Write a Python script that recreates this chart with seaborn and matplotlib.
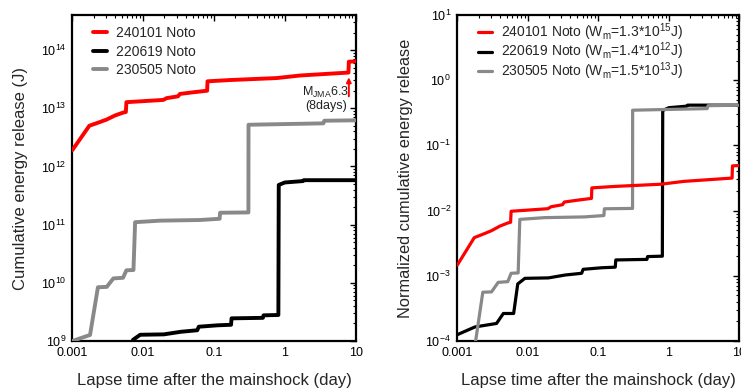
import numpy as np
import pandas as pd
import matplotlib
matplotlib.use("Agg")
import matplotlib.pyplot as plt
import seaborn as sns
from matplotlib.ticker import FixedLocator, FixedFormatter, LogLocator, NullFormatter

# ---------------- data ----------------
# 240101 Noto
t_240101 = [0.001, 0.00174, 0.00246, 0.00306, 0.0040, 0.0052, 0.0057, 0.0058, 0.0193,
            0.0214, 0.031, 0.033, 0.051, 0.080, 0.081, 0.168, 0.77, 1.64, 7.9, 8.0, 10.0]
E_240101 = [1.9e12, 5.0e12, 5.8e12, 6.4e12, 7.5e12, 8.4e12, 8.6e12, 1.27e13, 1.39e13,
            1.49e13, 1.6e13, 1.76e13, 1.88e13, 2.0e13, 2.9e13, 3.05e13, 3.3e13, 3.65e13,
            4.1e13, 6.3e13, 6.4e13]
# 220619 Noto
t_220619 = [0.001, 0.00178, 0.0036, 0.0045, 0.0063, 0.0072, 0.0091, 0.0196, 0.034, 0.058,
            0.061, 0.112, 0.174, 0.177, 0.49, 0.50, 0.81, 0.82, 1.0, 1.8, 1.85, 10.0]
E_220619 = [1.75e8, 2.3e8, 2.6e8, 3.7e8, 3.7e8, 1.05e9, 1.28e9, 1.3e9, 1.44e9, 1.53e9,
            1.76e9, 1.86e9, 1.9e9, 2.45e9, 2.5e9, 2.76e9, 2.8e9, 4.8e11, 5.3e11, 5.6e11,
            5.8e11, 5.8e11]
# 230505 Noto
t_230505 = [0.001, 0.00178, 0.0023, 0.00306, 0.0038, 0.0052, 0.0058, 0.0073, 0.0077,
            0.0173, 0.063, 0.12, 0.122, 0.306, 0.307, 3.5, 3.6, 10.0]
E_230505 = [1.0e9, 1.27e9, 8.4e9, 8.5e9, 1.19e10, 1.22e10, 1.64e10, 1.66e10, 1.1e11,
            1.17e11, 1.2e11, 1.26e11, 1.6e11, 1.62e11, 5.2e12, 5.5e12, 6.1e12, 6.2e12]

# maximum energies W_m (J) used for normalisation
Wm = {"240101": 1.3e15, "220619": 1.4e12, "230505": 1.5e13}

series_names = ["240101", "220619", "230505"]
series_t = {"240101": t_240101, "220619": t_220619, "230505": t_230505}
series_E = {"240101": E_240101, "220619": E_220619, "230505": E_230505}
colors = {"240101": "#ff0000", "220619": "#000000", "230505": "#898989"}
zorders = {"240101": 5, "220619": 3, "230505": 4}

legend_left = ["240101 Noto", "220619 Noto", "230505 Noto"]
legend_right = [r"240101 Noto (W$_{\rm m}$=1.3*10$^{15}$J)",
                r"220619 Noto (W$_{\rm m}$=1.4*10$^{12}$J)",
                r"230505 Noto (W$_{\rm m}$=1.5*10$^{13}$J)"]

xticks = [0.001, 0.01, 0.1, 1, 10]
xtick_labels = ["0.001", "0.01", "0.1", "1", "10"]

# ---------------- style ----------------
sns.set_style("white")
plt.rcParams["font.family"] = ["Liberation Sans", "DejaVu Sans"]
plt.rcParams["mathtext.fontset"] = "custom"
plt.rcParams["mathtext.rm"] = "Liberation Sans"
plt.rcParams["mathtext.it"] = "Liberation Sans:italic"
plt.rcParams["mathtext.bf"] = "Liberation Sans:bold"
plt.rcParams["axes.unicode_minus"] = True

fig = plt.figure(figsize=(7.41, 3.89), dpi=100)
axL = fig.add_axes([72.3 / 741, (389 - 341) / 389, (355.7 - 72.3) / 741, (341 - 15) / 389])
axR = fig.add_axes([457.3 / 741, (389 - 341) / 389, (739.3 - 457.3) / 741, (341 - 15) / 389])


def style_axis(ax):
    ax.set_xscale("log")
    ax.set_yscale("log")
    ax.set_xlim(0.001, 10)
    ax.xaxis.set_major_locator(FixedLocator(xticks))
    ax.xaxis.set_major_formatter(FixedFormatter(xtick_labels))
    ax.xaxis.set_minor_locator(LogLocator(base=10, subs=np.arange(2, 10), numticks=20))
    ax.xaxis.set_minor_formatter(NullFormatter())
    ax.yaxis.set_minor_locator(LogLocator(base=10, subs=np.arange(2, 10), numticks=20))
    ax.yaxis.set_minor_formatter(NullFormatter())
    ax.tick_params(which="both", direction="in", top=True, right=True, colors="black",
                   labelsize=9)
    ax.tick_params(which="major", length=4.5, width=1.0)
    ax.tick_params(axis="x", which="major", pad=4.5)
    ax.tick_params(axis="y", which="major", pad=4.5)
    ax.tick_params(which="minor", length=2.2, width=0.8)
    for s in ax.spines.values():
        s.set_visible(True)
        s.set_color("black")
        s.set_linewidth(1.6)
    ax.set_xlabel("Lapse time after the mainshock (day)", fontsize=12, labelpad=10)
    ax.grid(False)


# ---------------- left panel ----------------
handles = []
for name, lab in zip(series_names, legend_left):
    sns.lineplot(x=series_t[name], y=series_E[name], ax=axL, color=colors[name],
                 lw=2.8, estimator=None, sort=False, zorder=zorders[name])
    handles.append(axL.lines[-1])
axL.set_ylim(1e9, 4e14)
style_axis(axL)
axL.yaxis.set_major_locator(FixedLocator([1e9, 1e10, 1e11, 1e12, 1e13, 1e14]))
axL.set_ylabel("Cumulative energy release (J)", fontsize=12, labelpad=9)
axL.legend(handles, legend_left, loc="upper left", bbox_to_anchor=(0.073, 0.966),
           frameon=False, fontsize=10, handlelength=1.0, handletextpad=0.65,
           labelspacing=0.32, borderpad=0, borderaxespad=0)

axL.annotate("", xy=(8.0, 3.4e13), xytext=(8.0, 1.6e13),
             arrowprops=dict(arrowstyle="-|>", color="red", lw=1.4, mutation_scale=7,
                             shrinkA=0, shrinkB=0))
axL.text(3.8, 1.5e13, "M$_{\\rm JMA}$6.3\n(8days)", ha="center", va="center",
         fontsize=9, color="#222222", linespacing=1.0)

# ---------------- right panel ----------------
handlesR = []
for name, lab in zip(series_names, legend_right):
    yn = np.asarray(series_E[name]) / Wm[name]
    sns.lineplot(x=series_t[name], y=yn, ax=axR, color=colors[name],
                 lw=2.3, estimator=None, sort=False, zorder=zorders[name])
    handlesR.append(axR.lines[-1])
axR.set_ylim(1e-4, 10)
style_axis(axR)
axR.yaxis.set_major_locator(FixedLocator([1e-4, 1e-3, 1e-2, 1e-1, 1e0, 1e1]))
axR.set_ylabel("Normalized cumulative energy release", fontsize=11.8, labelpad=9)
axR.legend(handlesR, legend_right, loc="upper left", bbox_to_anchor=(0.073, 0.98),
           frameon=False, fontsize=10, handlelength=1.0, handletextpad=0.65,
           labelspacing=-0.16, borderpad=0, borderaxespad=0)

fig.savefig("out.png", dpi=100)
